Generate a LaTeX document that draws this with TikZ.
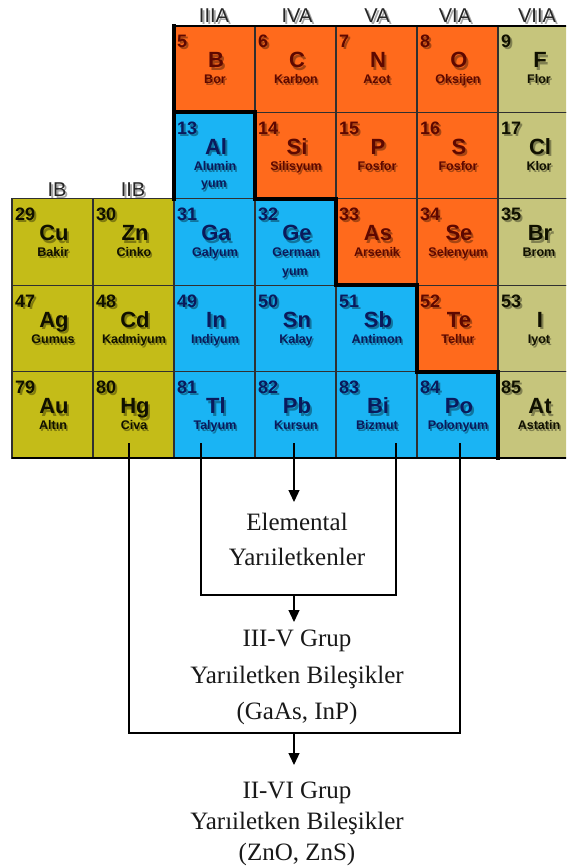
\documentclass[tikz,border=0pt]{standalone}
\usepackage{fontspec}
\setmainfont{Liberation Serif}
\newfontfamily\cellfont{Liberation Sans}
\usetikzlibrary{arrows.meta}
\definecolor{orfill}{HTML}{FF6A1C}
\definecolor{ortxt}{HTML}{5E0800}
\definecolor{blfill}{HTML}{1AB4F4}
\definecolor{bltxt}{HTML}{0A1A5C}
\definecolor{olfill}{HTML}{C4BC18}
\definecolor{oltxt}{HTML}{101000}
\definecolor{khfill}{HTML}{C6C57C}
\definecolor{khtxt}{HTML}{101000}
\definecolor{gridcol}{HTML}{303030}
\tikzset{
  cellbox/.style={rectangle,minimum width=81pt,minimum height=86.4pt,inner sep=0pt,draw=gridcol,line width=1.3pt},
  numtxt/.style={font=\cellfont\bfseries\fontsize{18}{18}\selectfont,anchor=base west,inner sep=0pt},
  symtxt/.style={font=\cellfont\bfseries\fontsize{22}{22}\selectfont,anchor=base,inner sep=0pt},
  nametxt/.style={font=\cellfont\bfseries\fontsize{12.5}{13}\selectfont,anchor=base,inner sep=0pt},
  grptxt/.style={font=\cellfont\fontsize{20}{20}\selectfont,anchor=base,inner sep=0pt,text=black!85},
  shd/.style={text=black,opacity=0.35},
  lbl/.style={font=\fontsize{25}{35}\selectfont,align=center,anchor=north,inner sep=0pt,text=black!90},
  conn/.style={line width=1.3pt,black},
  arr/.style={conn,-{Triangle[length=12pt,width=11pt]}},
  thickb/.style={line width=4pt,black,line cap=rect},
}
\newcommand\pelem[6]{%
  \pgfmathsetmacro\elx{12+81*#1}%
  \pgfmathsetmacro\ely{26+86.4*#2}%
  \node[cellbox,fill=#6fill] (c#3) at (\elx+40.5,\ely+43.2) {};
  \node[numtxt,shd] (n#3s) at (\elx+5,\ely+24) {#3};
  \node[numtxt,text=#6txt] (n#3) at (\elx+3,\ely+22) {#3};
  \node[symtxt,shd] (s#3s) at (\elx+44,\ely+44.5) {#4};
  \node[symtxt,text=#6txt] (s#3) at (\elx+42,\ely+42) {#4};
  \node[nametxt,shd] (m#3s) at (\elx+42.5,\ely+60) {#5};
  \node[nametxt,text=#6txt] (m#3) at (\elx+41,\ely+58) {#5};
}
\begin{document}
\begin{tikzpicture}[x=1pt,y=-1pt]
\useasboundingbox (0,0) rectangle (566,866);
\fill[white] (0,0) rectangle (566,866);
\clip (0,0) rectangle (566,866);
% group labels
\foreach \g/\gx/\gy in {IIIA/214/23, IVA/297/23, VA/377/23, VIA/455/23, VIIA/537/23, IB/57/197, IIB/133/197}{
  \node[grptxt,shd] (g\g s) at (\gx+2,\gy+2) {\g};
  \node[grptxt] (g\g) at (\gx,\gy) {\g};
}
% elements
\pelem{2}{0}{5}{B}{Bor}{or}
\pelem{3}{0}{6}{C}{Karbon}{or}
\pelem{4}{0}{7}{N}{Azot}{or}
\pelem{5}{0}{8}{O}{Oksijen}{or}
\pelem{6}{0}{9}{F}{Flor}{kh}
\pelem{2}{1}{13}{Al}{Alumin}{bl}
\pelem{3}{1}{14}{Si}{Silisyum}{or}
\pelem{4}{1}{15}{P}{Fosfor}{or}
\pelem{5}{1}{16}{S}{Fosfor}{or}
\pelem{6}{1}{17}{Cl}{Klor}{kh}
\pelem{0}{2}{29}{Cu}{Bakir}{ol}
\pelem{1}{2}{30}{Zn}{Cinko}{ol}
\pelem{2}{2}{31}{Ga}{Galyum}{bl}
\pelem{3}{2}{32}{Ge}{German}{bl}
\pelem{4}{2}{33}{As}{Arsenik}{or}
\pelem{5}{2}{34}{Se}{Selenyum}{or}
\pelem{6}{2}{35}{Br}{Brom}{kh}
\pelem{0}{3}{47}{Ag}{Gumus}{ol}
\pelem{1}{3}{48}{Cd}{Kadmiyum}{ol}
\pelem{2}{3}{49}{In}{Indiyum}{bl}
\pelem{3}{3}{50}{Sn}{Kalay}{bl}
\pelem{4}{3}{51}{Sb}{Antimon}{bl}
\pelem{5}{3}{52}{Te}{Tellur}{or}
\pelem{6}{3}{53}{I}{Iyot}{kh}
\pelem{0}{4}{79}{Au}{Altın}{ol}
\pelem{1}{4}{80}{Hg}{Civa}{ol}
\pelem{2}{4}{81}{Tl}{Talyum}{bl}
\pelem{3}{4}{82}{Pb}{Kursun}{bl}
\pelem{4}{4}{83}{Bi}{Bizmut}{bl}
\pelem{5}{4}{84}{Po}{Polonyum}{bl}
\pelem{6}{4}{85}{At}{Astatin}{kh}
% second lines of names
\node[nametxt,shd] (y13s) at (215.5,190) {yum};
\node[nametxt,text=bltxt] (y13) at (214,188) {yum};
\node[nametxt,shd] (y32s) at (296.5,277.5) {yum};
\node[nametxt,text=bltxt] (y32) at (295,275.5) {yum};
% heavy borders
\draw[line width=2.5pt,black] (174,26) -- (566,26);
\draw[line width=2.5pt,black] (12,458) -- (566,458);
\draw[thickb] (174,198.8) -- (174,26);
\draw[thickb] (174,112.4) -- (255,112.4) -- (255,198.8) -- (336,198.8) -- (336,285.2) -- (417,285.2) -- (417,371.6) -- (498,371.6) -- (498,458);
% connector taps
\coordinate (hgtap) at (129,443);
\coordinate (tltap) at (201,443);
\coordinate (pbtap) at (294,443);
\coordinate (bitap) at (396,443);
\coordinate (potap) at (460,443);
\coordinate (inbot) at (294,595);
\coordinate (outbot) at (294,733);
% text blocks
\node[lbl] (elem) at (297,513) {Elemental\\Yarıiletkenler};
\node[lbl,font=\fontsize{25}{36.5}\selectfont] (iiiv) at (297,630) {III-V Grup\\Yarıiletken Bileşikler\\(GaAs, InP)};
\node[lbl,font=\fontsize{25}{31}\selectfont] (iivi) at (297,782) {II-VI Grup\\Yarıiletken Bileşikler\\(ZnO, ZnS)};
% connectors
\draw[arr,shorten >=11pt] (pbtap) -- (pbtap |- elem.north);
\draw[conn] (tltap) |- (inbot) -| (bitap);
\draw[arr,shorten >=8pt] (inbot) -- (inbot |- iiiv.north);
\draw[conn] (hgtap) |- (outbot) -| (potap);
\draw[arr,shorten >=17pt] (outbot) -- (outbot |- iivi.north);
\end{tikzpicture}
\end{document}
